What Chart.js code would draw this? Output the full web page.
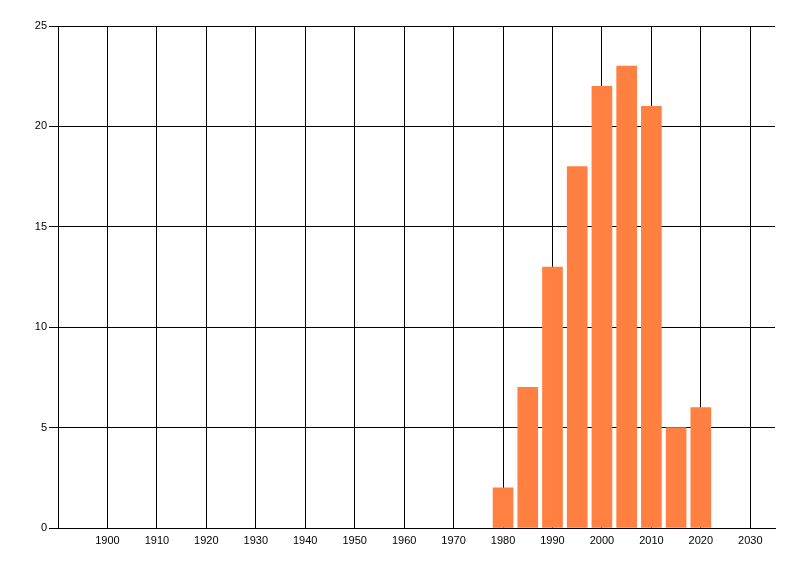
<!DOCTYPE html>
<html>
<head>
<meta charset="utf-8">
<script src="https://cdn.jsdelivr.net/npm/chart.js@4"></script>
<style>
  body { margin: 0; background: #fff; }
</style>
</head>
<body>
<canvas id="grafico" width="800" height="576"></canvas>
<script>
var anos = [1980, 1985, 1990, 1995, 2000, 2005, 2010, 2015, 2020];
var valores = [2, 7, 13, 18, 22, 23, 21, 5, 6];
var marcasX = [1900, 1910, 1920, 1930, 1940, 1950, 1960, 1970, 1980, 1990, 2000, 2010, 2020, 2030];
var marcasY = [0, 5, 10, 15, 20, 25];

var pontos = [];
for (var i = 0; i < anos.length; i++) {
    pontos.push({ x: anos[i], y: valores[i] });
}

var fonte = { family: "'Liberation Sans', Arial, sans-serif", size: 11 };

var ctx = document.getElementById("grafico");
var chart = new Chart(ctx, {
    type: "bar",
    data: {
        datasets: [{
            data: pontos,
            backgroundColor: "rgb(255,128,64)",
            borderWidth: 0,
            barThickness: 20
        }]
    },
    options: {
        responsive: false,
        animation: false,
        layout: { padding: { top: 26, right: 25, left: 0, bottom: 0 } },
        plugins: { legend: { display: false }, tooltip: { enabled: false } },
        scales: {
            x: {
                type: "linear",
                min: 1890,
                max: 2035,
                offset: false,
                afterBuildTicks: function (s) {
                    s.ticks = marcasX.map(function (v) { return { value: v }; });
                },
                afterFit: function (s) { s.height = 48; },
                ticks: {
                    color: "#000", font: fonte, padding: 6, maxRotation: 0, autoSkip: false,
                    callback: function (v) { return String(v); }
                },
                grid: { color: "#000", lineWidth: 1, drawTicks: false, offset: false },
                border: { color: "#000", width: 1 }
            },
            y: {
                min: 0,
                max: 25,
                afterBuildTicks: function (s) {
                    s.ticks = marcasY.map(function (v) { return { value: v }; });
                },
                afterFit: function (s) { s.width = 58; },
                ticks: { color: "#000", font: fonte, padding: 2, callback: function (v) { return String(v); } },
                grid: { color: "#000", lineWidth: 1, drawTicks: true, tickLength: 9, tickColor: "#000" },
                border: { color: "#000", width: 1 }
            }
        }
    }
});
</script>
</body>
</html>
